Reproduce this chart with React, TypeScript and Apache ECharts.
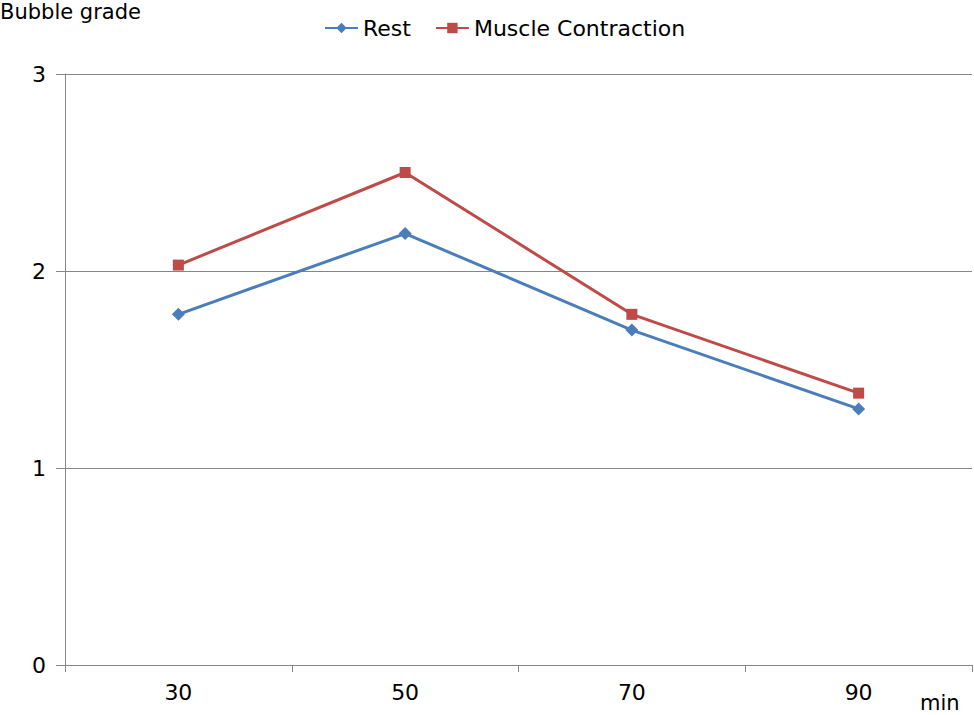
import React, { useEffect, useRef } from "react";
import * as echarts from "echarts";

const categories = ["30", "50", "70", "90"];
const restValues = [1.78, 2.19, 1.7, 1.3];
const contractionValues = [2.03, 2.5, 1.78, 1.38];
const yAxisTitle = "Bubble grade";
const xAxisTitle = "min";

const FONT = "'DejaVu Sans', 'Noto Sans', sans-serif";

export default function App() {
  const ref = useRef<HTMLDivElement>(null);
  useEffect(() => {
    document.body.style.margin = "0";
    const chart = echarts.init(ref.current!, null, { renderer: "svg" });
    chart.setOption({
      animation: false,
      backgroundColor: "#ffffff",
      textStyle: { fontFamily: FONT },
      grid: { left: 65, right: 2, top: 74, bottom: 50, containLabel: false },
      legend: {
        top: 12,
        left: 319,
        itemWidth: 33,
        itemHeight: 13,
        itemGap: 24,
        textStyle: { fontSize: 22, color: "#000", fontFamily: FONT },
        data: ["Rest", "Muscle Contraction"],
      },
      graphic: [
        {
          type: "text",
          left: 0,
          top: 1,
          style: { text: yAxisTitle, fontSize: 21, fill: "#000", fontFamily: FONT },
        },
        {
          type: "text",
          left: 920,
          top: 692,
          style: { text: xAxisTitle, fontSize: 21, fill: "#000", fontFamily: FONT },
        },
      ],
      xAxis: {
        type: "category",
        data: categories,
        boundaryGap: true,
        axisLine: { lineStyle: { color: "#868686", width: 1 } },
        axisTick: { show: true, length: 7, alignWithLabel: false, lineStyle: { color: "#868686" } },
        axisLabel: { fontSize: 22, color: "#000", margin: 16, fontFamily: FONT },
        splitLine: { show: false },
      },
      yAxis: {
        type: "value",
        min: 0,
        max: 3,
        interval: 1,
        axisLine: { show: true, lineStyle: { color: "#868686", width: 1 } },
        axisTick: { show: true, length: 9, lineStyle: { color: "#868686" } },
        axisLabel: { fontSize: 22, color: "#000", margin: 19, fontFamily: FONT },
        splitLine: { show: true, lineStyle: { color: "#868686", width: 1 } },
      },
      series: [
        {
          name: "Rest",
          type: "line",
          data: restValues,
          symbol: "diamond",
          symbolSize: 13,
          lineStyle: { color: "#4A7EBB", width: 3 },
          itemStyle: { color: "#4A7EBB" },
        },
        {
          name: "Muscle Contraction",
          type: "line",
          data: contractionValues,
          symbol: "rect",
          symbolSize: 11,
          lineStyle: { color: "#BE4B48", width: 3 },
          itemStyle: { color: "#BE4B48" },
        },
      ],
    });
    return () => chart.dispose();
  }, []);
  return (
    <div
      ref={ref}
      style={{ position: "absolute", left: 0, top: 0, width: 974, height: 715 }}
    />
  );
}
